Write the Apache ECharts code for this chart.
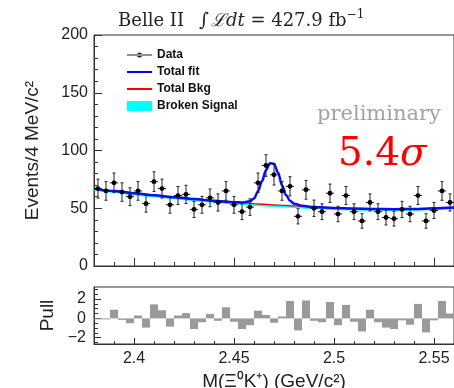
<!DOCTYPE html>
<html>
<head>
<meta charset="utf-8">
<script src="https://cdn.jsdelivr.net/npm/echarts@6/dist/echarts.min.js"></script>
<style>
  html, body { margin: 0; padding: 0; background: #fff; }
  #chart { width: 454px; height: 388px; }
</style>
</head>
<body>
<div id="chart"></div>
<script>
// Ξ0 K+ invariant-mass spectrum in 4 MeV/c² bins, with fit components and pulls.
const massMin = 2.38;
const massMax = 2.56;
const binWidth = 0.004;

// Events per bin
const counts = [67, 65, 72, 64, 60, 65, 54, 73, 67, 53,
                61, 62, 49, 53, 59, 55, 65, 53, 47, 51,
                72, 87, 79, 65, 69, 43, 66, 50, 47, 63,
                45, 61, 47, 39, 55, 47, 42, 41, 49, 45,
                61, 39, 48, 65, 55];

// Pull per bin
const pulls = [-0.1, -0.1, 0.9, -0.15, -0.5, 0.3, -0.95, 1.45, 0.85, -0.85,
               0.3, 0.55, -1.1, -0.4, 0.45, -0.25, 1.15, -0.35, -1.1, -0.7,
               0.8, 0.35, -0.45, 0.2, 1.8, -1.25, 1.85, -0.25, -0.4, 1.7,
               -0.7, 1.4, -0.35, -1.35, 0.9, -0.4, -0.95, -1.1, -0.2, -0.65,
               1.5, -1.45, -0.2, 1.8, 0.5];

// Total fit curve
const fitMass  = [2.38, 2.39, 2.40, 2.41, 2.42, 2.43, 2.44, 2.45, 2.454, 2.458,
                  2.460, 2.462, 2.464, 2.466, 2.468, 2.470, 2.472, 2.474, 2.476, 2.478,
                  2.480, 2.484, 2.49, 2.50, 2.51, 2.52, 2.53, 2.54, 2.55, 2.56];
const fitTotal = [67, 65, 63, 61.3, 59.6, 58, 56.5, 55.2, 55.0, 56.0,
                  58.5, 64.5, 73.5, 83, 89, 88.5, 81, 70, 61.5, 56.5,
                  54, 52.2, 51, 50.3, 49.7, 49.3, 49.2, 49.4, 49.9, 50.6];

// Background-only and broken-signal components
const bkgMass      = [2.38, 2.39, 2.40, 2.41, 2.42, 2.43, 2.44, 2.45, 2.46, 2.47,
                      2.48, 2.49, 2.50, 2.51, 2.52, 2.53, 2.54, 2.55, 2.56];
const totalBkg     = [67, 65, 63, 61.3, 59.6, 58, 56.5, 55.2, 54, 53,
                      52, 51, 50.3, 49.7, 49.3, 49.2, 49.4, 49.9, 50.6];
const brokenSignal = [66, 64, 62, 60.3, 58.6, 57, 55.5, 54.2, 53, 52,
                      51, 50.1, 49.4, 48.9, 48.6, 48.5, 48.7, 49.2, 49.9];

// Tick labels
const xTickValues     = [2.4, 2.45, 2.5, 2.55];
const pullTickValues  = [-2, 0, 2];
const pullMinorTicks  = [-2.5, -2, -1.5, -1, -0.5, 0, 0.5, 1, 1.5, 2, 2.5, 3];

const sans  = '"Liberation Sans", Arial, sans-serif';
const serif = '"DejaVu Serif", "Liberation Serif", serif';

const binCenter = i => massMin + (i + 0.5) * binWidth;
const dataPoints = counts.map((n, i) => [binCenter(i), n, Math.sqrt(n)]);
const pullPoints = pulls.map((p, i) => [binCenter(i), p]);

// free-standing text helpers
const measureCtx = document.createElement('canvas').getContext('2d');
function textWidth(text, font) { measureCtx.font = font; return measureCtx.measureText(text).width; }
function textEl(text, x, y, font, fill) {
  return { type: 'text', x: x, y: y, silent: true,
           style: { text: text, font: font, fill: fill, align: 'left', verticalAlign: 'middle' } };
}

const graphics = [];
// header: Belle II  ∫ℒdt = 427.9 fb^-1
graphics.push(textEl('Belle II', 118, 21, '18px ' + serif, '#222'));
(function () {
  let x = 199;
  const parts = [
    ['∫', '19px ' + serif, 0],
    ['ℒ', 'italic 18px ' + serif, 0],
    ['dt', 'italic 18px ' + serif, 0],
    [' = 427.9 fb', '18px ' + serif, 0],
    ['−1', '12px ' + serif, -6]
  ];
  parts.forEach(p => {
    graphics.push(textEl(p[0], x, 21 + p[2], p[1], '#222'));
    x += textWidth(p[0], p[1]) + (p[0] === '∫' ? 2 : 0);
  });
})();
graphics.push(textEl('preliminary', 317, 115, '21px ' + serif, '#a3a3a3'));
(function () {
  const f1 = '39px ' + serif, f2 = 'italic 39px ' + serif;
  graphics.push(textEl('5.4', 338, 155, f1, '#ff0000'));
  graphics.push(textEl('σ', 338 + textWidth('5.4', f1), 155, f2, '#ff0000'));
})();

const frameColor = '#333';
const tickLabelStyle = { fontFamily: sans, fontSize: 16, color: '#222' };
const nameStyle = { fontFamily: sans, fontSize: 19, color: '#222' };

function legendBox(name, top, icon, h, color) {
  return {
    data: [name], left: 127, top: top, padding: 0, orient: 'vertical',
    itemWidth: 25, itemHeight: h, icon: icon, selectedMode: false,
    itemStyle: { color: color, borderWidth: 0 },
    textStyle: { fontFamily: sans, fontSize: 12, fontWeight: 'bold', color: '#111', padding: [0, 0, 0, 0] }
  };
}

const chart = echarts.init(document.getElementById('chart'), null, { renderer: 'canvas' });
chart.setOption({
  animation: false,
  backgroundColor: '#fff',
  grid: [
    { left: 94, top: 35, width: 360, height: 231, show: true, borderColor: frameColor, borderWidth: 1,
      containLabel: false, outerBoundsMode: 'none' },
    { left: 94, top: 287, width: 360, height: 57, show: true, borderColor: frameColor, borderWidth: 1,
      containLabel: false, outerBoundsMode: 'none' }
  ],
  legend: [
    legendBox('Data', 49, 'path://M0,2H25V3.2H0Z M10,2.6A2.5,2.5,0,1,0,15,2.6A2.5,2.5,0,1,0,10,2.6Z', 5, '#222'),
    legendBox('Total fit', 66, 'rect', 2, '#0000ff'),
    legendBox('Total Bkg', 83, 'rect', 2, '#ff0000'),
    legendBox('Broken Signal', 100, 'rect', 10, '#00ffff')
  ],
  xAxis: [
    { // main panel, 10 MeV ticks
      type: 'value', gridIndex: 0, position: 'bottom', min: massMin, max: massMax, interval: 0.01,
      axisLine: { show: true, onZero: false, lineStyle: { color: frameColor } },
      axisTick: { show: true, inside: true, length: 4, lineStyle: { color: frameColor } },
      axisLabel: { show: false }, splitLine: { show: false }
    },
    { // main panel, labelled ticks
      type: 'value', gridIndex: 0, position: 'bottom', min: massMin, max: massMax,
      axisLine: { show: false, onZero: false },
      axisTick: { show: true, inside: true, length: 8, customValues: xTickValues, lineStyle: { color: frameColor } },
      axisLabel: { show: false }, splitLine: { show: false }
    },
    { // pull panel, 10 MeV ticks
      type: 'value', gridIndex: 1, position: 'bottom', min: massMin, max: massMax, interval: 0.01,
      axisLine: { show: true, onZero: false, lineStyle: { color: frameColor } },
      axisTick: { show: true, inside: true, length: 3, lineStyle: { color: frameColor } },
      axisLabel: { show: false }, splitLine: { show: false }
    },
    { // pull panel, labelled ticks and axis title
      type: 'value', gridIndex: 1, position: 'bottom', min: massMin, max: massMax,
      axisLine: { show: false, onZero: false },
      axisTick: { show: true, inside: true, length: 6, customValues: xTickValues, lineStyle: { color: frameColor } },
      axisLabel: { show: true, customValues: xTickValues, margin: 7, formatter: v => String(v), ...tickLabelStyle },
      splitLine: { show: false },
      name: 'M(Ξ⁰K⁺) (GeV/c²)', nameLocation: 'middle', nameGap: 28, nameTextStyle: nameStyle
    }
  ],
  yAxis: [
    {
      type: 'value', gridIndex: 0, position: 'left', min: 0, max: 200, interval: 50,
      axisLine: { show: true, onZero: false, lineStyle: { color: frameColor } },
      axisTick: { show: true, inside: true, length: 8, lineStyle: { color: frameColor } },
      minorTick: { show: true, splitNumber: 5, length: 4, lineStyle: { color: frameColor } },
      axisLabel: { show: true, margin: 6, ...tickLabelStyle },
      splitLine: { show: false },
      name: 'Events/4 MeV/c²', nameLocation: 'middle', nameGap: 52, nameTextStyle: nameStyle
    },
    { // pull panel minor ticks
      type: 'value', gridIndex: 1, position: 'left', min: -2.65, max: 3.25,
      axisLine: { show: true, onZero: false, lineStyle: { color: frameColor } },
      axisTick: { show: true, inside: true, length: 4, customValues: pullMinorTicks, lineStyle: { color: frameColor } },
      axisLabel: { show: false }, splitLine: { show: false }
    },
    { // pull panel labelled ticks
      type: 'value', gridIndex: 1, position: 'left', min: -2.65, max: 3.25,
      axisLine: { show: false, onZero: false },
      axisTick: { show: true, inside: true, length: 7, customValues: pullTickValues, lineStyle: { color: frameColor } },
      axisLabel: { show: true, customValues: pullTickValues, margin: 8,
                   formatter: v => (v < 0 ? '−' + Math.abs(v) : String(v)), ...tickLabelStyle },
      splitLine: { show: false },
      name: 'Pull', nameLocation: 'middle', nameGap: 34, nameTextStyle: nameStyle
    }
  ],
  series: [
    {
      name: 'Broken Signal', type: 'line', xAxisIndex: 0, yAxisIndex: 0, z: 2,
      data: bkgMass.map((m, i) => [m, brokenSignal[i]]),
      smooth: true, symbol: 'none', silent: true,
      itemStyle: { color: '#00ffff' }, lineStyle: { color: '#00ffff', width: 2 }
    },
    {
      name: 'Total Bkg', type: 'line', xAxisIndex: 0, yAxisIndex: 0, z: 3,
      data: bkgMass.map((m, i) => [m, totalBkg[i]]),
      smooth: true, symbol: 'none', silent: true,
      itemStyle: { color: '#ff0000' }, lineStyle: { color: '#ff0000', width: 1.3 }
    },
    {
      name: 'Total fit', type: 'line', xAxisIndex: 0, yAxisIndex: 0, z: 4,
      data: fitMass.map((m, i) => [m, fitTotal[i]]),
      smooth: 0.35, smoothMonotone: 'x', symbol: 'none', silent: true,
      itemStyle: { color: '#0000ff' }, lineStyle: { color: '#0a0aff', width: 2.5 }
    },
    {
      name: 'Data', type: 'custom', xAxisIndex: 0, yAxisIndex: 0, z: 6,
      data: dataPoints, itemStyle: { color: '#222' }, silent: true,
      renderItem: function (params, api) {
        const x = api.value(0), n = api.value(1), e = api.value(2);
        const c  = api.coord([x, n]);
        const lo = api.coord([x, n - e]);
        const hi = api.coord([x, n + e]);
        const l  = api.coord([x - binWidth / 2, n]);
        const r  = api.coord([x + binWidth / 2, n]);
        const s = { stroke: '#222', lineWidth: 1 };
        return { type: 'group', children: [
          { type: 'line', shape: { x1: c[0], y1: lo[1], x2: c[0], y2: hi[1] }, style: s },
          { type: 'line', shape: { x1: c[0] - 1.5, y1: lo[1], x2: c[0] + 1.5, y2: lo[1] }, style: s },
          { type: 'line', shape: { x1: c[0] - 1.5, y1: hi[1], x2: c[0] + 1.5, y2: hi[1] }, style: s },
          { type: 'line', shape: { x1: l[0], y1: c[1], x2: r[0], y2: c[1] }, style: s },
          { type: 'circle', shape: { cx: c[0], cy: c[1], r: 2.4 }, style: { fill: '#000' } }
        ] };
      }
    },
    {
      name: 'Pull', type: 'custom', xAxisIndex: 2, yAxisIndex: 1, z: 3,
      data: pullPoints, silent: true,
      renderItem: function (params, api) {
        const x = api.value(0), p = api.value(1);
        const a = api.coord([x - binWidth / 2, 0]);
        const b = api.coord([x + binWidth / 2, p]);
        const y0 = Math.min(a[1], b[1]);
        return { type: 'rect',
                 shape: { x: a[0], y: y0, width: b[0] - a[0], height: Math.max(1, Math.abs(b[1] - a[1])) },
                 style: { fill: '#9a9a9a' } };
      }
    }
  ],
  graphic: graphics
});
</script>
</body>
</html>
